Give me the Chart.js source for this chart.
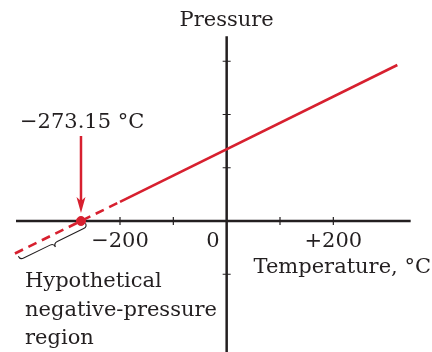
<!DOCTYPE html>
<html>
<head>
<meta charset="utf-8">
<script src="https://cdn.jsdelivr.net/npm/chart.js@4/dist/chart.umd.min.js"></script>
<style>
  html, body { margin: 0; padding: 0; background: #fff; }
  #wrap { width: 432px; height: 352px; }
</style>
</head>
<body>
<div id="wrap"><canvas id="chart" width="432" height="352"></canvas></div>
<script>
// values (pressure in tick units)
const solidTemps = [-200, 320];
const solidPressure = [0.36, 2.93];
const dashTemps = [-397, -200];
const dashPressure = [-0.61, 0.36];
const zeroTemp = [-273.15];
const zeroPressure = [0];

const xTicks = [-200, -100, 100, 200];
const xTickLabels = ['−200', '0', '+200'];
const xLabelValues = [-200, 0, 200];
const yTicks = [-1, 1, 2, 3];
const braceRange = [-394, -268];

const red = '#d7202f';
const ink = '#231f20';
const font = '21px "DejaVu Serif"';

function toPoints(xs, ys) {
    return xs.map((x, i) => ({ x: x, y: ys[i] }));
}

const axesPlugin = {
    id: 'axes',
    beforeDatasetsDraw(chart) {
        const ctx = chart.ctx;
        const xs = chart.scales.x, ys = chart.scales.y;
        const x0 = xs.getPixelForValue(0), y0 = ys.getPixelForValue(0);
        ctx.save();
        ctx.strokeStyle = ink;
        ctx.lineWidth = 2.5;
        ctx.beginPath();
        ctx.moveTo(xs.getPixelForValue(-395), y0);
        ctx.lineTo(xs.getPixelForValue(345), y0);
        ctx.moveTo(x0, ys.getPixelForValue(3.47));
        ctx.lineTo(x0, chart.height);
        ctx.stroke();

        ctx.lineWidth = 1.2;
        ctx.beginPath();
        xTicks.forEach(t => {
            const px = xs.getPixelForValue(t);
            ctx.moveTo(px, y0 - 4);
            ctx.lineTo(px, y0 + 4);
        });
        yTicks.forEach(t => {
            const py = ys.getPixelForValue(t);
            ctx.moveTo(x0 - 4, py);
            ctx.lineTo(x0 + 4, py);
        });
        ctx.stroke();
        ctx.restore();
    },
    afterDatasetsDraw(chart) {
        const ctx = chart.ctx;
        const xs = chart.scales.x, ys = chart.scales.y;
        const x0 = xs.getPixelForValue(0);
        ctx.save();
        ctx.fillStyle = ink;
        ctx.font = font;
        ctx.textBaseline = 'alphabetic';

        // tick labels
        xTickLabels.forEach((lab, i) => {
            const v = xLabelValues[i];
            const px = xs.getPixelForValue(v);
            if (v === 0) {
                ctx.textAlign = 'right';
                ctx.fillText(lab, px - 7, 247);
            } else {
                ctx.textAlign = 'center';
                ctx.fillText(lab, px, 247);
            }
        });

        ctx.textAlign = 'center';
        ctx.fillText('Pressure', x0, 26);
        ctx.textAlign = 'right';
        ctx.fillText('Temperature, °C', 431, 273);
        ctx.textAlign = 'left';
        ctx.fillText('−273.15 °C', 20, 128);
        ctx.fillText('Hypothetical', 25, 287);
        ctx.fillText('negative-pressure', 25, 316);
        ctx.fillText('region', 25, 344);

        // arrow to absolute zero
        const ax = xs.getPixelForValue(zeroTemp[0]);
        const tip = ys.getPixelForValue(0) - 8;
        ctx.strokeStyle = red;
        ctx.fillStyle = red;
        ctx.lineWidth = 2.5;
        ctx.beginPath();
        ctx.moveTo(ax, 136);
        ctx.lineTo(ax, tip - 8);
        ctx.stroke();
        ctx.beginPath();
        ctx.moveTo(ax, tip);
        ctx.lineTo(ax - 4.5, tip - 16);
        ctx.lineTo(ax, tip - 12);
        ctx.lineTo(ax + 4.5, tip - 16);
        ctx.closePath();
        ctx.fill();

        // brace under the dashed part
        const slope = (dashPressure[1] - dashPressure[0]) / (dashTemps[1] - dashTemps[0]);
        const pAt = t => dashPressure[0] + slope * (t - dashTemps[0]);
        const sx = xs.getPixelForValue(braceRange[0]), sy = ys.getPixelForValue(pAt(braceRange[0]));
        const ex = xs.getPixelForValue(braceRange[1]), ey = ys.getPixelForValue(pAt(braceRange[1]));
        const L = Math.hypot(ex - sx, ey - sy);
        const ang = Math.atan2(ey - sy, ex - sx);
        ctx.translate(sx, sy);
        ctx.rotate(ang);
        ctx.strokeStyle = ink;
        ctx.lineWidth = 1.1;
        const d = 8, h = L / 2;
        ctx.beginPath();
        ctx.moveTo(0, 4);
        ctx.quadraticCurveTo(0, d, 4, d);
        ctx.lineTo(h - 4, d);
        ctx.quadraticCurveTo(h, d, h, d + 4);
        ctx.quadraticCurveTo(h, d, h + 4, d);
        ctx.lineTo(L - 4, d);
        ctx.quadraticCurveTo(L, d, L, 4);
        ctx.stroke();
        ctx.restore();
    }
};

new Chart(document.getElementById('chart'), {
    type: 'scatter',
    data: {
        datasets: [
            {
                data: toPoints(dashTemps, dashPressure),
                showLine: true,
                borderColor: red,
                borderWidth: 2.6,
                borderDash: [9, 6],
                pointRadius: 0
            },
            {
                data: toPoints(solidTemps, solidPressure),
                showLine: true,
                borderColor: red,
                borderWidth: 2.6,
                pointRadius: 0
            },
            {
                data: toPoints(zeroTemp, zeroPressure),
                backgroundColor: red,
                borderColor: red,
                pointRadius: 4.5
            }
        ]
    },
    options: {
        responsive: false,
        animation: false,
        layout: { padding: 0, autoPadding: false },
        plugins: { legend: { display: false }, tooltip: { enabled: false } },
        scales: {
            x: { type: 'linear', min: -425, max: 385, display: false },
            y: { type: 'linear', min: -2.46, max: 4.15, display: false }
        }
    },
    plugins: [axesPlugin]
});
</script>
</body>
</html>
